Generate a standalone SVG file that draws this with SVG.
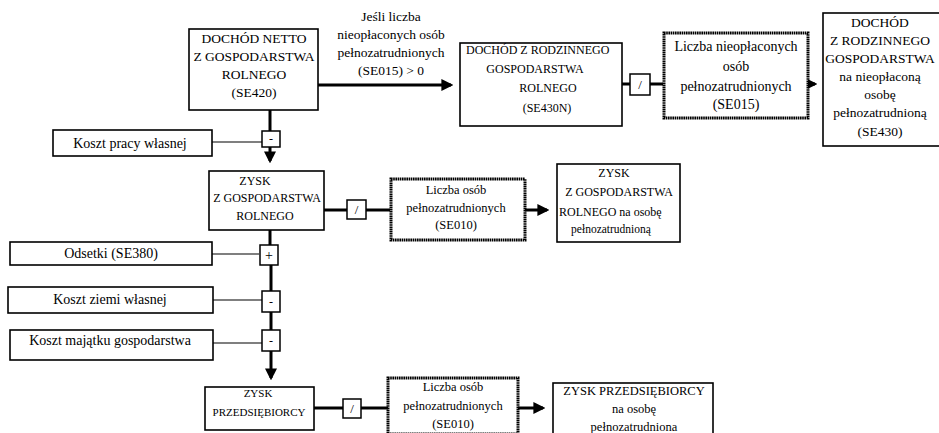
<svg xmlns="http://www.w3.org/2000/svg" width="939" height="433" viewBox="0 0 939 433" font-family="'Liberation Serif', 'DejaVu Serif', serif">
<style>
text{font-family:"Liberation Serif","DejaVu Serif",serif;fill:#000}
.bx{fill:#fff;stroke:#000;stroke-width:1.6}
.dot{fill:#fff;stroke:#000;stroke-width:3;stroke-dasharray:1.6 0.6}
.op{fill:#fff;stroke:#000;stroke-width:1.5}
.th{stroke:#000;stroke-width:3;fill:none}
.tn{stroke:#000;stroke-width:1.2;fill:none}
.c{text-anchor:middle}
</style>
<defs>
<marker id="ah" markerWidth="4" markerHeight="4" refX="3.2" refY="2" orient="auto" markerUnits="strokeWidth">
<path d="M0,0 L4,2 L0,4 z" fill="#000"/>
</marker>
</defs>
<g id="connectors">
<line class="th" x1="318" y1="85" x2="451" y2="85" marker-end="url(#ah)"/>
<line class="th" x1="622" y1="84" x2="663" y2="84"/>
<line class="th" x1="808" y1="84" x2="815" y2="84" marker-end="url(#ah)"/>
<line class="th" x1="270" y1="110" x2="270" y2="161" marker-end="url(#ah)"/>
<line class="tn" x1="212" y1="142" x2="262" y2="142"/>
<line class="th" x1="324" y1="210" x2="390" y2="210"/>
<line class="th" x1="525" y1="210" x2="547" y2="210" marker-end="url(#ah)"/>
<line class="th" x1="270" y1="230" x2="270" y2="255"/>
<line class="th" x1="271" y1="255" x2="271" y2="378" marker-end="url(#ah)"/>
<line class="tn" x1="212" y1="254" x2="259" y2="254"/>
<line class="tn" x1="213" y1="300" x2="262" y2="300"/>
<line class="tn" x1="213" y1="343" x2="262" y2="343"/>
<line class="th" x1="314" y1="408" x2="388" y2="408"/>
<line class="th" x1="518" y1="408" x2="543" y2="408" marker-end="url(#ah)"/>
</g>
<g id="op1"><rect class="op" x="630" y="74" width="20" height="21"/><text class="c" x="640" y="89" font-size="13">/</text></g>
<g id="op2"><rect class="op" x="262" y="131" width="18" height="16"/><text class="c" x="271" y="143" font-size="12">-</text></g>
<g id="op3"><rect class="op" x="347" y="200" width="19" height="19"/><text class="c" x="356.5" y="214" font-size="13">/</text></g>
<g id="op4"><rect class="op" x="260" y="245" width="18" height="20"/><text class="c" x="269" y="260" font-size="14">+</text></g>
<g id="op5"><rect class="op" x="262" y="291" width="18" height="21"/><text class="c" x="271" y="306" font-size="12">-</text></g>
<g id="op6"><rect class="op" x="262" y="330" width="18" height="21"/><text class="c" x="271" y="345" font-size="12">-</text></g>
<g id="op7"><rect class="op" x="343" y="399" width="18" height="19"/><text class="c" x="352" y="413" font-size="13">/</text></g>
<g id="n_se420">
<rect class="bx" x="189" y="29" width="129" height="81"/>
<text class="c" font-size="13.5"><tspan x="254" y="43">DOCHÓD NETTO</tspan><tspan x="254" y="61">Z GOSPODARSTWA</tspan><tspan x="254" y="79">ROLNEGO</tspan><tspan x="254" y="97">(SE420)</tspan></text>
</g>
<g id="cond">
<text class="c" font-size="13.5"><tspan x="391" y="21">Jeśli liczba</tspan><tspan x="391" y="39">nieopłaconych osób</tspan><tspan x="391" y="57">pełnozatrudnionych</tspan><tspan x="391" y="75">(SE015) &gt; 0</tspan></text>
</g>
<g id="n_se430n">
<rect class="bx" x="460" y="43" width="162" height="83"/>
<text font-size="12"><tspan x="466" y="54">DOCHÓD Z RODZINNEGO</tspan><tspan x="535" y="73" text-anchor="middle">GOSPODARSTWA</tspan><tspan x="548" y="92" text-anchor="middle">ROLNEGO</tspan><tspan x="547" y="112" text-anchor="middle">(SE430N)</tspan></text>
</g>
<g id="n_se015">
<rect class="dot" x="664" y="33" width="144" height="85"/>
<text class="c" font-size="14"><tspan x="736" y="51">Liczba nieopłaconych</tspan><tspan x="736" y="71">osób</tspan><tspan x="736" y="91">pełnozatrudnionych</tspan><tspan x="736" y="109">(SE015)</tspan></text>
</g>
<g id="n_se430">
<rect class="bx" x="823" y="13" width="130" height="133"/>
<text class="c" font-size="13.5"><tspan x="880" y="27">DOCHÓD</tspan><tspan x="880" y="45">Z RODZINNEGO</tspan><tspan x="880" y="63">GOSPODARSTWA</tspan><tspan x="880" y="81">na nieopłaconą</tspan><tspan x="880" y="99">osobę</tspan><tspan x="880" y="117">pełnozatrudnioną</tspan><tspan x="880" y="136">(SE430)</tspan></text>
</g>
<g id="n_kpw">
<rect class="bx" x="53" y="130" width="159" height="26"/>
<text class="c" x="130" y="148" font-size="14">Koszt pracy własnej</text>
</g>
<g id="n_zysk_gr">
<rect class="bx" x="209" y="171" width="115" height="59"/>
<text class="c" font-size="12"><tspan x="255" y="185">ZYSK</tspan><tspan x="267" y="202">Z GOSPODARSTWA</tspan><tspan x="265" y="220">ROLNEGO</tspan></text>
</g>
<g id="n_se010a">
<rect class="dot" x="391" y="179" width="134" height="61"/>
<text class="c" font-size="12.5"><tspan x="456" y="194">Liczba osób</tspan><tspan x="456" y="212">pełnozatrudnionych</tspan><tspan x="456" y="229">(SE010)</tspan></text>
</g>
<g id="n_zysk_gr_os">
<rect class="bx" x="557" y="164" width="123" height="78"/>
<text font-size="12"><tspan x="614" y="177" text-anchor="middle">ZYSK</tspan><tspan x="619" y="196" text-anchor="middle">Z GOSPODARSTWA</tspan><tspan x="559" y="216">ROLNEGO na osobę</tspan><tspan x="611" y="233" text-anchor="middle" font-size="11.5">pełnozatrudnioną</tspan></text>
</g>
<g id="n_odsetki">
<rect class="bx" x="10" y="242" width="202" height="23"/>
<text class="c" x="111" y="258" font-size="14">Odsetki (SE380)</text>
</g>
<g id="n_kzw">
<rect class="bx" x="8" y="287" width="205" height="26"/>
<text class="c" x="110" y="304" font-size="14">Koszt ziemi własnej</text>
</g>
<g id="n_kmg">
<rect class="bx" x="10" y="330" width="203" height="30"/>
<text class="c" x="110" y="345" font-size="14">Koszt majątku gospodarstwa</text>
</g>
<g id="n_zysk_prz">
<rect class="bx" x="205" y="387" width="109" height="43"/>
<text class="c" font-size="11"><tspan x="258" y="397">ZYSK</tspan><tspan x="259" y="416">PRZEDSIĘBIORCY</tspan></text>
</g>
<g id="n_se010b">
<rect class="dot" x="388" y="378" width="130" height="56"/>
<text class="c" font-size="12.5"><tspan x="453" y="391">Liczba osób</tspan><tspan x="453" y="410">pełnozatrudnionych</tspan><tspan x="453" y="428">(SE010)</tspan></text>
</g>
<g id="n_zysk_prz_os">
<rect class="bx" x="553" y="383" width="160" height="60"/>
<text class="c" font-size="12.5"><tspan x="634" y="395">ZYSK PRZEDSIĘBIORCY</tspan><tspan x="634" y="413">na osobę</tspan><tspan x="634" y="431">pełnozatrudniona</tspan></text>
</g>
</svg>
